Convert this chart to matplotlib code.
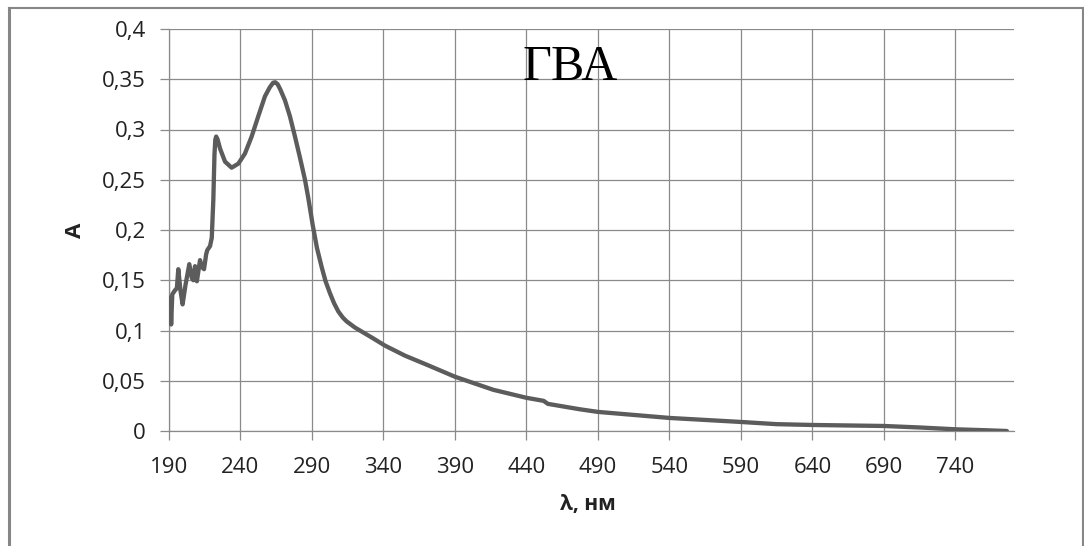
import matplotlib
matplotlib.use('Agg')
import matplotlib.pyplot as plt
from matplotlib.lines import Line2D

# wavelength (nm) and absorbance
wavelength = [191.0, 191.5, 192.3, 194.2, 195.5, 196.5, 198.0, 199.5, 201.5, 204.2,
              206.0, 207.0, 208.2, 209.5, 211.7, 213.0, 214.5, 216.0, 216.8, 218.7,
              219.9, 221.0, 221.8, 222.4, 223.0, 224.0, 225.7, 229.2, 233.8, 238.5,
              243.1, 247.8, 252.4, 257.1, 260.5, 262.8, 264.3, 266.0, 267.8, 271.1,
              274.6, 278.1, 281.6, 285.1, 287.4, 290.5, 293.5, 296.8, 299.5, 302.6,
              305.5, 308.4, 311.5, 314.3, 320.0, 325.9, 333.0, 341.0, 355.0, 370.2,
              390.0, 416.8, 440.1, 452.0, 455.0, 477.4, 490.0, 515.0, 540.0, 565.0,
              590.0, 615.0, 640.0, 665.0, 690.0, 715.0, 740.0, 760.0, 776.0]
absorb = [0.133, 0.106, 0.136, 0.140, 0.142, 0.161, 0.140, 0.126, 0.145, 0.166,
          0.152, 0.150, 0.164, 0.149, 0.170, 0.163, 0.161, 0.176, 0.180, 0.184,
          0.192, 0.230, 0.275, 0.290, 0.293, 0.290, 0.281, 0.268, 0.262, 0.266,
          0.276, 0.293, 0.313, 0.333, 0.342, 0.3465, 0.347, 0.345, 0.340, 0.329,
          0.313, 0.293, 0.272, 0.250, 0.232, 0.205, 0.182, 0.163, 0.149, 0.137,
          0.127, 0.119, 0.113, 0.109, 0.103, 0.098, 0.092, 0.085, 0.075, 0.066,
          0.054, 0.041, 0.033, 0.030, 0.027, 0.0216, 0.019, 0.016, 0.013, 0.011,
          0.009, 0.0068, 0.006, 0.0055, 0.005, 0.0035, 0.0017, 0.0008, 0.0]

x_ticks = [190, 240, 290, 340, 390, 440, 490, 540, 590, 640, 690, 740]
y_ticks = [0, 0.05, 0.1, 0.15, 0.2, 0.25, 0.3, 0.35, 0.4]
y_tick_labels = ['0', '0,05', '0,1', '0,15', '0,2', '0,25', '0,3', '0,35', '0,4']

title = 'ГВА'
x_label = 'λ, нм'
y_label = 'A'

plt.rcParams['font.family'] = ['Open Sans', 'DejaVu Sans']
grid_col = '#8a8a8a'

fig = plt.figure(figsize=(10.84, 5.46), dpi=100)
ax = fig.add_axes([169 / 1084, 1 - 431 / 546, 845 / 1084, 402 / 546])

ax.plot(wavelength, absorb, color='#5c5c5c', lw=3.1, solid_joinstyle='round',
        solid_capstyle='round', zorder=3)

ax.set_xlim(190, 781)
ax.set_ylim(0, 0.4)
ax.set_xticks(x_ticks)
ax.set_yticks(y_ticks)
ax.set_yticklabels(y_tick_labels)
ax.grid(True, color=grid_col, lw=0.9)
ax.set_axisbelow(True)

for s in ['top', 'right']:
    ax.spines[s].set_visible(False)
for s in ['left', 'bottom']:
    ax.spines[s].set_color(grid_col)
    ax.spines[s].set_linewidth(0.9)

ax.tick_params(axis='both', direction='out', length=6.5, width=0.9, color=grid_col,
               labelsize=16, labelcolor='#222222')
ax.tick_params(axis='y', pad=10)
ax.tick_params(axis='x', pad=12)

ax.set_xlabel(x_label, fontsize=15, fontweight='bold', color='#222222', va='center')
ax.xaxis.set_label_coords(0.496, -0.184)
ax.set_ylabel(y_label, fontsize=16, fontweight='bold', color='#222222', va='center')
ax.yaxis.set_label_coords(-0.111, 0.5)

ax.text(0.4746, 0.873, title, transform=ax.transAxes, ha='center', va='baseline',
        fontsize=36, family='Liberation Serif', color='black')

# outer chart frame
fig.add_artist(Line2D([8.5 / 1084, 8.5 / 1084], [0, 1 - 7.5 / 546], transform=fig.transFigure,
                      color='#868686', lw=2.2))
fig.add_artist(Line2D([8.5 / 1084, 1082.5 / 1084], [1 - 7.5 / 546, 1 - 7.5 / 546],
                      transform=fig.transFigure, color='#868686', lw=1.5))
fig.add_artist(Line2D([1082.5 / 1084, 1082.5 / 1084], [0, 1 - 7.5 / 546], transform=fig.transFigure,
                      color='#868686', lw=1.5))

fig.savefig('out.png', dpi=100)
